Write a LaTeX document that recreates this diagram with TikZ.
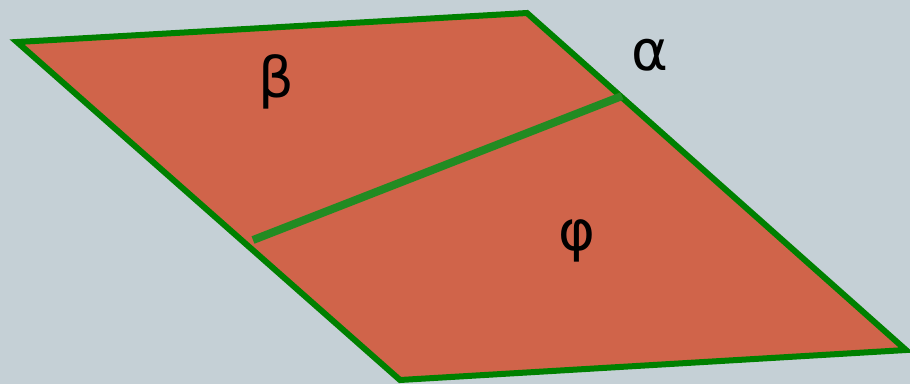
\documentclass[tikz,border=0pt]{standalone}
\usepackage{fontspec}
\setmainfont{DejaVu Sans}
\definecolor{bg}{HTML}{C5D0D6}
\definecolor{face}{HTML}{D0644A}
\definecolor{edge}{HTML}{008000}
\definecolor{inner}{HTML}{228B22}
\begin{document}
\begin{tikzpicture}[x=1pt,y=-1pt,
  lbl/.style={font=\fontsize{56}{60}\selectfont, inner sep=0pt}]
\fill[bg] (0,0) rectangle (910,384);
\useasboundingbox (0,0) rectangle (910,384);
\coordinate (A) at (17,42);
\coordinate (B) at (527,13);
\coordinate (C) at (906,350);
\coordinate (D) at (400,380);
\coordinate (P) at (253,240);
\coordinate (Q) at (622,96);
\filldraw[fill=face, draw=edge, line width=6pt, line join=miter] (A) -- (B) -- (C) -- (D) -- cycle;
\draw[inner, line width=8pt] (P) -- (Q);
\node[lbl] (beta) at (276,82) {β};
\node[lbl] (alpha) at (650,55) {α};
\node[lbl] (phi) at (577,241) {φ};
\end{tikzpicture}
\end{document}
